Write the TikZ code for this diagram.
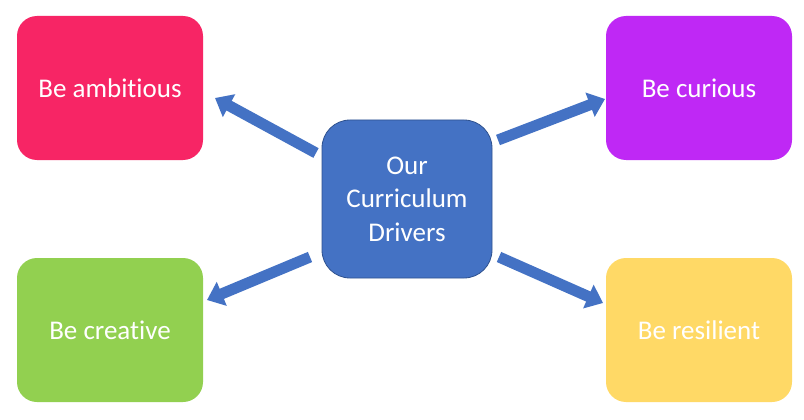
\documentclass[tikz,border=0pt]{standalone}
\usepackage{fontspec}
\setmainfont{Carlito}[Ligatures={NoCommon}]
\usetikzlibrary{arrows.meta}
\definecolor{cpink}{HTML}{F72565}
\definecolor{cpurple}{HTML}{BF28F5}
\definecolor{cgreen}{HTML}{92D050}
\definecolor{cyellow}{HTML}{FFD966}
\definecolor{cblue}{HTML}{4472C4}
\definecolor{cblueline}{HTML}{2F528F}
\tikzset{
  driver/.style={rounded corners=20pt, minimum width=186pt, minimum height=144pt,
    inner sep=0pt, text=white, font=\fontsize{27}{33}\selectfont, align=center},
  hub/.style={rounded corners=28pt, minimum width=170pt, minimum height=158pt,
    inner sep=0pt, text=white, fill=cblue, draw=cblueline, line width=0.8pt,
    font=\fontsize{27}{33.5}\selectfont, align=center},
  blockarrow/.style={draw=cblue, line width=11pt,
    -{Triangle[width=25pt,length=16pt]}}
}
\begin{document}
\begin{tikzpicture}[x=1pt,y=-1pt]
\useasboundingbox[fill=white] (0,0) rectangle (804,420);
\node[driver, fill=cpink] (amb) at (110,88) {Be ambitious};
\node[driver, fill=cpurple] (cur) at (699,88) {Be curious};
\node[driver, fill=cgreen] (cre) at (110,330) {Be creative};
\node[driver, fill=cyellow] (res) at (699,330) {Be resilient};
\node[hub] (hub) at (407,199) {Our\\Curriculum\\Drivers};
\coordinate (a1s) at (316,153);
\coordinate (a1e) at (215,98);
\coordinate (a2s) at (498,140);
\coordinate (a2e) at (605,99);
\coordinate (a3s) at (310,257);
\coordinate (a3e) at (207,300);
\coordinate (a4s) at (499,257);
\coordinate (a4e) at (603,303);
\draw[blockarrow] (a1s) -- (a1e);
\draw[blockarrow] (a2s) -- (a2e);
\draw[blockarrow] (a3s) -- (a3e);
\draw[blockarrow] (a4s) -- (a4e);
\end{tikzpicture}
\end{document}
